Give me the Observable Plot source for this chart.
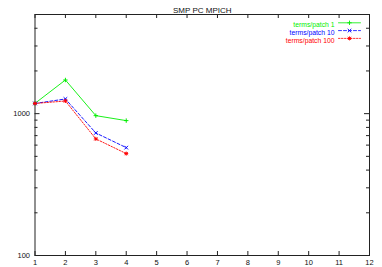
<!DOCTYPE html>
<html>
<head>
<meta charset="utf-8">
<script src="https://cdn.jsdelivr.net/npm/d3@7"></script>
<script src="https://cdn.jsdelivr.net/npm/@observablehq/plot@0.6"></script>
<style>
  html, body { margin: 0; padding: 0; background: #fff; }
  #chart svg { display: block; }
</style>
</head>
<body>
<div id="chart"></div>
<script>
const title = "SMP PC MPICH";
const procs = [1, 2, 3, 4];
const seriesNames = ["terms/patch 1", "terms/patch 10", "terms/patch 100"];
const values1 = [1182, 1727, 968, 893];
const values10 = [1180, 1269, 731, 576];
const values100 = [1180, 1228, 664, 523];
const colors = ["#00ee00", "#0000ff", "#ff0000"];
const dashes = [null, "3,2", "1.5,1.5"];
const xTicks = [1, 2, 3, 4, 5, 6, 7, 8, 9, 10, 11, 12];
const yMajor = [100, 1000];
const yMinor = [200, 300, 400, 500, 600, 700, 800, 900, 2000, 3000, 4000];

const W = 382, H = 267;
const mL = 34.5, mR = 13, mT = 14, mB = 12;
const innerW = W - mL - mR, innerH = H - mT - mB;

const allSeries = [values1, values10, values100];
const data = allSeries.flatMap((vals, i) =>
  procs.map((p, j) => ({x: p, y: vals[j], s: i})));

const plusSym = {draw(c) { const r = 2.2; c.moveTo(-r, 0); c.lineTo(r, 0); c.moveTo(0, -r); c.lineTo(0, r); }};
const timesSym = {draw(c) { const r = 1.8; c.moveTo(-r, -r); c.lineTo(r, r); c.moveTo(-r, r); c.lineTo(r, -r); }};
const starSym = {draw(c) { const r = 1.6; c.moveTo(-r, -r); c.lineTo(r, r); c.moveTo(-r, r); c.lineTo(r, -r); c.moveTo(-2, 0); c.lineTo(2, 0); c.moveTo(0, -2); c.lineTo(0, 2); }};
const syms = [plusSym, timesSym, starSym];

const lineShape = {draw(context, l) { context.moveTo(0, 0); context.lineTo(0, -l); }};

const marks = [
  Plot.frame({stroke: "#222", strokeWidth: 1}),
  Plot.tickX(xTicks, {x: d => d, insetTop: innerH - 4, stroke: "#222"}),
  Plot.tickX(xTicks, {x: d => d, insetBottom: innerH - 4, stroke: "#222"}),
  Plot.tickY(yMajor, {y: d => d, insetRight: innerW - 5, stroke: "#222"}),
  Plot.tickY(yMajor, {y: d => d, insetLeft: innerW - 5, stroke: "#222"}),
  Plot.tickY(yMinor, {y: d => d, insetRight: innerW - 3, stroke: "#222"}),
  Plot.tickY(yMinor, {y: d => d, insetLeft: innerW - 3, stroke: "#222"}),
  Plot.axisX({ticks: xTicks, tickSize: 0, tickPadding: 4, fontSize: 7.5, tickFormat: d => String(d), label: null, anchor: "bottom", fill: "#111"}),
  Plot.axisY({ticks: yMajor, tickSize: 0, tickPadding: 5, fontSize: 7.5, tickFormat: d => String(d), label: null, anchor: "left", fill: "#111"}),
  Plot.text([title], {frameAnchor: "top", dy: -7, fontSize: 8, fill: "#111"})
];

seriesNames.forEach((name, i) => {
  const d = data.filter(r => r.s === i);
  marks.push(Plot.line(d, {x: "x", y: "y", stroke: colors[i], strokeWidth: 0.9, strokeDasharray: dashes[i]}));
  marks.push(Plot.dot(d, {x: "x", y: "y", symbol: syms[i], stroke: colors[i], strokeWidth: 1, r: 2}));
  const dy = 7.8 + i * 7.8;
  marks.push(Plot.text([name], {frameAnchor: "top-right", dx: -35, dy, textAnchor: "end", fill: colors[i], fontSize: 6.8}));
  marks.push(Plot.vector([name], {frameAnchor: "top-right", dx: -31, dy: dy + 0.5, rotate: 90, length: 22, anchor: "start", shape: lineShape, stroke: colors[i], strokeWidth: 0.8, strokeDasharray: dashes[i]}));
  marks.push(Plot.dot([name], {frameAnchor: "top-right", dx: -20, dy: dy + 0.5, symbol: syms[i], stroke: colors[i], strokeWidth: 0.9, r: 2}));
});

const chart = Plot.plot({
  width: W,
  height: H,
  marginLeft: mL,
  marginRight: mR,
  marginTop: mT,
  marginBottom: mB,
  style: {fontFamily: "'Liberation Sans', Arial, sans-serif", background: "#fff"},
  x: {domain: [1, 12], axis: null},
  y: {type: "log", domain: [100, 5000], axis: null},
  marks
});
document.getElementById("chart").appendChild(chart);
</script>
</body>
</html>
